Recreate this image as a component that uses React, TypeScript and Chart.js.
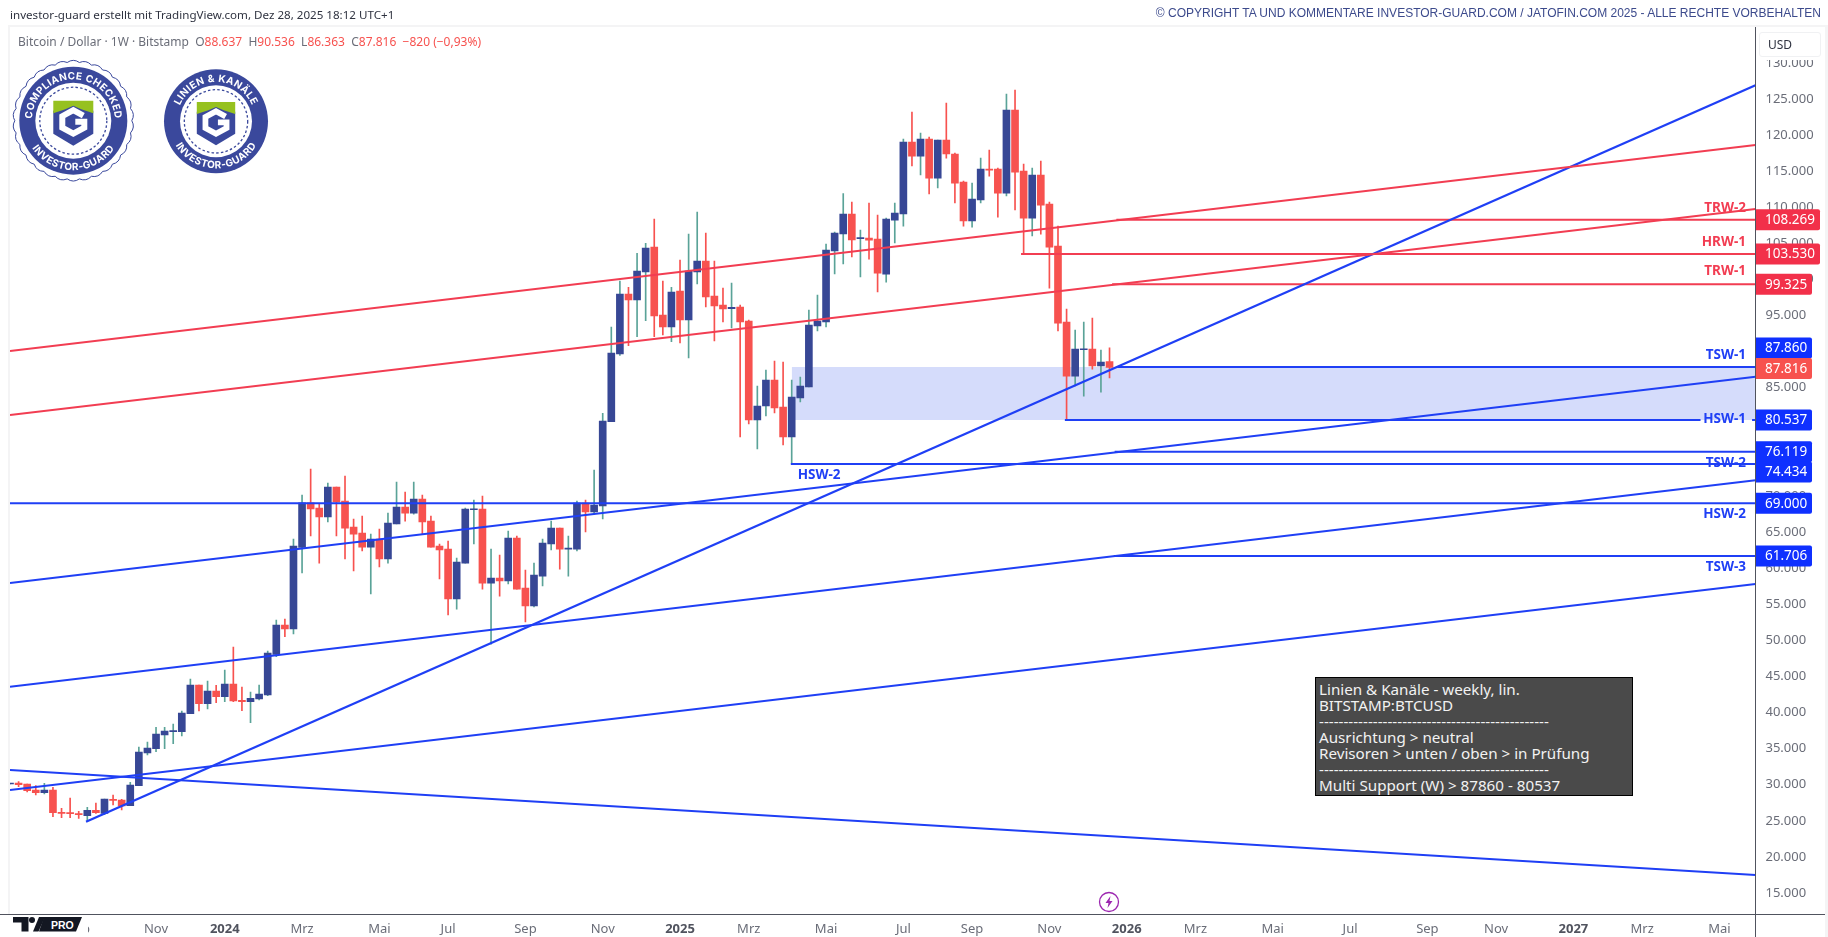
import { useEffect, useRef } from "react";
import { Chart, registerables } from "chart.js";

Chart.register(...registerables);

// weekly candles, Bitstamp BTCUSD
const opens = [30100,30240,30100,29270,28900,29270,26170,26080,25990,25710,26450,26040,27980,27880,27100,29870,34390,35000,36890,37350,37350,39840,43820,41230,42980,42200,43950,41690,41510,41880,42430,48060,52130,51570,62890,69070,68330,67090,71240,69300,65700,64870,62930,64040,61270,66120,68470,67640,69580,66530,63070,62650,55730,60710,68100,68200,57940,58640,58220,64180,57250,54760,58910,63350,65560,62650,62650,69030,67780,68620,80300,89670,97990,97160,101040,104500,95080,93420,98400,94390,101040,102560,97710,96460,95960,96190,94250,80530,82470,86070,82330,78180,83580,85100,93550,94110,103940,106300,109070,105650,105740,105600,100750,108230,109070,119040,117100,119460,114050,119320,117380,113500,108100,111010,115300,115300,111970,123470,115020,108510,114470,110450,104630,94100,86620,90270,90360,88010,88637];
const highs = [30190,30420,30100,29870,30190,29640,26730,28160,26310,26870,27470,28020,28580,27980,30330,35230,35920,37950,37950,38410,40210,44650,43820,44370,43770,45890,49080,43540,42850,43820,48530,52820,52960,64040,70140,73740,68980,71800,71240,72770,66810,67230,64730,65430,67640,71940,70550,71940,70140,67230,63350,63760,61410,68330,69440,70000,62650,61820,65150,64460,59750,60710,64040,66530,65560,64460,69300,69440,73600,81450,93420,99790,98910,103620,105010,108380,99790,98910,102700,106300,109350,106440,102560,98820,99510,96460,94390,85240,87460,88700,88570,86070,86490,95770,97850,104910,106580,111900,110730,106850,110590,108930,108510,110590,119460,123200,120290,119730,119320,124440,117520,113640,113360,116820,117930,115440,125690,126240,115990,115440,116410,110730,107400,95900,92990,94100,94660,90220,90536];
const lows = [30100,29730,28990,28580,28710,25570,25440,25440,25340,24970,26040,25850,27190,26500,27100,29870,34120,34580,35000,35690,36750,39840,40210,40490,41370,41510,41510,40260,38600,41740,42340,47740,50510,50880,59330,64460,60710,66400,64460,61270,59610,62380,56420,60160,60710,66120,66530,67500,64730,62930,58500,53510,54340,60710,63350,57110,49490,56140,57810,57110,52540,54620,57530,62520,59880,58910,62380,65010,67500,66810,80300,89490,90830,92080,94290,92080,92310,91380,91200,89120,99370,96190,91480,94110,93280,78180,79980,76510,81080,81500,77070,74430,83020,85100,92860,93420,100760,102140,103110,100340,102830,98260,99640,105050,107400,115720,114470,111840,112670,116820,110590,107400,107260,110590,114330,108650,111560,109620,103530,106020,106290,98810,92860,80530,85240,83850,87590,84400,86363];
const closes = [30190,30010,29180,28900,29270,26130,26040,25990,25850,26450,26130,28020,27840,27050,29960,34530,35090,37030,37440,37440,39940,43820,41230,42980,42200,43950,41600,41510,41970,42570,48250,52130,51570,63070,69070,68200,67090,71240,69170,65560,64730,62930,64040,61270,66260,68470,67640,69580,66400,62930,62520,55730,60850,68200,68200,57940,58640,58220,64180,57110,54760,59050,63490,65560,62650,62790,69030,67780,68750,80390,89810,97990,97160,101170,104360,94940,93420,98260,94390,101170,102560,97570,96320,95910,96140,94110,80530,82470,86070,82190,78180,83720,85240,93690,94250,104080,106440,109070,105470,105750,105460,100890,108370,109200,119040,117100,119460,114050,119320,117380,113360,108100,111140,115300,115160,111970,123470,114880,108510,114470,110310,104490,93960,86620,90360,90360,88010,88560,87816];

const xMax = 203.2;

const priceTicks = [15000,20000,25000,30000,35000,40000,45000,50000,55000,60000,65000,70000,75000,80000,85000,90000,95000,100000,105000,110000,115000,120000,125000,130000];
const tickBars = [8,17,25,34,43,51,60,69,78,86,95,104,112,121,130,138,147,156,165,173,182,190,199];
const tickLabels = ["Sep","Nov","2024","Mrz","Mai","Jul","Sep","Nov","2025","Mrz","Mai","Jul","Sep","Nov","2026","Mrz","Mai","Jul","Sep","Nov","2027","Mrz","Mai"];

// sloped trend lines, first two are the red channel
const trendFromBar = [0,0,8.85,0,0,0,0];
const trendFromPrice = [90090,81220,24880,57950,43580,29270,32040];
const trendToPrice = [118630,109760,126900,86530,72180,57810,17490];
const trendColors = ["#f23d52","#f23d52","#1f3ff5","#1f3ff5","#1f3ff5","#1f3ff5","#1f3ff5"];

// horizontal levels
const levelPrices = [108269,103530,99325,87860,80537,80537,76119,74434,69000,61706];
const levelFromBar = [128.8,117.7,128.3,128.9,122.8,202.8,128.6,90.9,0,128.5];
const levelToBar = [xMax,xMax,xMax,xMax,196.8,xMax,xMax,xMax,xMax,xMax];
const levelColors = ["#f23d52","#f23d52","#f23d52","#1f3ff5","#1f3ff5","#1f3ff5","#1f3ff5","#1f3ff5","#1f3ff5","#1f3ff5"];

const zoneTop = 87860;
const zoneBottom = 80537;
const zoneFromBar = 91;

const tagPrices = [108269,103530,99325,87860,87816,80537,76119,74434,69000,61706];
const tagNudge = [0,0,0,-19,1,0,0,8,0,0];
const tagWide = [true,true,false,false,false,false,false,false,false,false];
const tagColors = ["#f2304a","#f2304a","#f2304a","#0f30ff","#f7524f","#0f30ff","#0f30ff","#0f30ff","#0f30ff","#0f30ff"];

const noteNames = ["TRW-2","HRW-1","TRW-1","TSW-1","HSW-1","TSW-2","HSW-2","TSW-3"];
const notePrices = [108269,103530,99325,87860,80537,74434,69000,61706];
const noteNudge = [-12,-12,-13,-12,-1,-1,11,11];
const noteColors = ["#f23d52","#f23d52","#f23d52","#1f3ff5","#1f3ff5","#1f3ff5","#1f3ff5","#1f3ff5"];

const insetBar = 91.7;

const UI_FONT = '"Noto Sans", sans-serif';
const deNumber = (v: number) => v.toLocaleString("de-DE");

const overlays = {
  id: "overlays",
  afterDatasetsDraw(chart: any) {
    const { ctx, scales } = chart;
    ctx.save();
    ctx.font = `bold 13.5px ${UI_FONT}`;
    ctx.textBaseline = "middle";
    ctx.textAlign = "right";
    noteNames.forEach((name, i) => {
      ctx.fillStyle = noteColors[i];
      ctx.fillText(name, 1746, scales.y.getPixelForValue(notePrices[i]) + noteNudge[i]);
    });
    ctx.textAlign = "left";
    ctx.fillStyle = "#1f3ff5";
    ctx.fillText("HSW-2", scales.x.getPixelForValue(insetBar), scales.y.getPixelForValue(74434) + 11);
    ctx.restore();
  },
  afterDraw(chart: any) {
    const { ctx, chartArea, scales, width, height } = chart;
    ctx.save();
    // faint chart frame
    ctx.fillStyle = "#f4f4f5";
    ctx.fillRect(8, 25, 2, height - 48);
    ctx.fillRect(8, 25, width - 8, 2);
    ctx.fillRect(width - 3, 25, 3, height - 25);
    // axis lines
    ctx.fillStyle = "#50535e";
    ctx.fillRect(Math.floor(chartArea.right), chartArea.top, 1, height - chartArea.top);
    ctx.fillRect(0, Math.floor(chartArea.bottom), width - 3, 1);
    // price tags
    ctx.font = `13.5px ${UI_FONT}`;
    ctx.textBaseline = "middle";
    ctx.textAlign = "left";
    tagPrices.forEach((price, i) => {
      const y = scales.y.getPixelForValue(price) + tagNudge[i];
      const left = Math.floor(chartArea.right) + 1;
      ctx.fillStyle = tagColors[i];
      ctx.beginPath();
      ctx.roundRect(left, y - 10.5, tagWide[i] ? 64 : 56, 21, [0, 2, 2, 0]);
      ctx.fill();
      ctx.fillStyle = "#ffffff";
      ctx.fillText(deNumber(price), left + 9, y + 0.5);
    });
    ctx.restore();
  },
};

function Scallop({ cx, cy, r }: { cx: number; cy: number; r: number }) {
  const n = 30;
  let d = "";
  for (let i = 0; i < n; i++) {
    const a = (i / n) * Math.PI * 2;
    const a2 = ((i + 1) / n) * Math.PI * 2;
    const am = (a + a2) / 2;
    const p = (ang: number, rad: number) => `${(cx + rad * Math.cos(ang)).toFixed(1)} ${(cy + rad * Math.sin(ang)).toFixed(1)}`;
    d += (i === 0 ? `M${p(a, r)}` : "") + `Q${p(am, r + 4)} ${p(a2, r)}`;
  }
  return <path d={d + "Z"} fill="#fff" stroke="#3a489c" strokeWidth="1" />;
}

function Shield({ cx, cy, k }: { cx: number; cy: number; k: number }) {
  return (
    <g transform={`translate(${cx} ${cy}) scale(${k})`}>
      <path d="M-20 -10V13L0 25L20 13V-10L0 -18Z" fill="#3a489c" />
      <path d="M-20 -20H20V-7.5L8 -11.5L0 -15L-8 -11.5L-20 -7.5Z" fill="#96c11f" />
      <path d="M10 -5L0 -10.5L-11 -4.5V7L0 13L11 7V1H2" fill="none" stroke="#fff" strokeWidth="6" />
    </g>
  );
}

function Badges() {
  return (
    <svg width="280" height="140" viewBox="0 50 280 140" style={{ position: "absolute", left: 0, top: 50 }}>
      <defs>
        <path id="topA" d="M31.8 120.7a41.5 41.5 0 0 1 83 0" />
        <path id="botA" d="M23.8 120.7a49.5 49.5 0 0 0 99 0" />
        <path id="topB" d="M176.5 121.3a39.5 39.5 0 0 1 79 0" />
        <path id="botB" d="M169 121.3a47 47 0 0 0 94 0" />
      </defs>
      <Scallop cx={73.3} cy={120.7} r={58.5} />
      <circle cx={73.3} cy={120.7} r={54} fill="#3a489c" />
      <circle cx={73.3} cy={120.7} r={38} fill="#fff" />
      <circle cx={73.3} cy={120.7} r={33.5} fill="none" stroke="#3a489c" strokeWidth="1.3" strokeDasharray="2.5 2.2" />
      <Shield cx={73.3} cy={120.7} k={1} />
      <g fill="#fff" fontFamily="Inter" fontWeight="700" fontSize="10" letterSpacing="0.4" textAnchor="middle">
        <text><textPath href="#topA" startOffset="50%">COMPLIANCE CHECKED</textPath></text>
        <text><textPath href="#botA" startOffset="50%">INVESTOR-GUARD</textPath></text>
      </g>
      <circle cx={216} cy={121.3} r={52} fill="#3a489c" />
      <circle cx={216} cy={121.3} r={36} fill="#fff" />
      <circle cx={216} cy={121.3} r={31.7} fill="none" stroke="#3a489c" strokeWidth="1.3" strokeDasharray="2.5 2.2" />
      <Shield cx={216} cy={121.3} k={0.96} />
      <g fill="#fff" fontFamily="Inter" fontWeight="700" fontSize="10" letterSpacing="0.4" textAnchor="middle">
        <text><textPath href="#topB" startOffset="50%">LINIEN &amp; KANÄLE</textPath></text>
        <text><textPath href="#botB" startOffset="50%">INVESTOR-GUARD</textPath></text>
      </g>
    </svg>
  );
}

export default function App() {
  const canvasRef = useRef<HTMLCanvasElement>(null);

  useEffect(() => {
    if (!canvasRef.current) return;
    const isUp = (i: number) => closes[i] >= opens[i];
    const trendSets = trendFromBar.map((from, i) => ({
      type: "line" as const,
      data: [{ x: from, y: trendFromPrice[i] }, { x: xMax, y: trendToPrice[i] }],
      borderColor: trendColors[i],
      borderWidth: i === 2 ? 2.3 : 2,
      pointRadius: 0,
      order: 1,
    }));
    const levelSets = levelPrices.map((price, i) => ({
      type: "line" as const,
      data: [{ x: levelFromBar[i], y: price }, { x: levelToBar[i], y: price }],
      borderColor: levelColors[i],
      borderWidth: 2,
      pointRadius: 0,
      order: 1,
    }));
    const chart = new Chart(canvasRef.current, {
      type: "bar",
      data: {
        datasets: [
          {
            type: "line",
            data: [{ x: zoneFromBar, y: zoneTop }, { x: xMax, y: zoneTop }],
            borderWidth: 0,
            pointRadius: 0,
            backgroundColor: "#d5dcfb",
            fill: { value: zoneBottom },
            order: 9,
          },
          {
            data: opens.map((_, i) => ({ x: i, y: [lows[i], highs[i]] })),
            backgroundColor: opens.map((_, i) => (isUp(i) ? "#5aa398" : "#f7524f")),
            barThickness: 1,
            grouped: false,
            order: 8,
          },
          {
            data: opens.map((_, i) => ({ x: i, y: [opens[i], closes[i]] })),
            backgroundColor: opens.map((_, i) => (isUp(i) ? "#374795" : "#f7524f")),
            barThickness: 7,
            minBarLength: 1,
            grouped: false,
            order: 7,
          },
          ...trendSets,
          ...levelSets,
        ] as any,
      },
      plugins: [overlays],
      options: {
        animation: false,
        responsive: false,
        devicePixelRatio: 1,
        layout: { padding: { left: 10, top: 27, right: 0, bottom: 0 } },
        plugins: { legend: { display: false }, tooltip: { enabled: false } },
        scales: {
          x: {
            type: "linear",
            min: 0,
            max: xMax,
            offset: false,
            grid: { display: false, drawTicks: false },
            border: { display: false },
            afterBuildTicks: (scale: any) => {
              scale.ticks = tickBars.map((value) => ({ value }));
            },
            afterFit: (scale: any) => {
              scale.height = 23;
            },
            ticks: {
              autoSkip: false,
              maxRotation: 0,
              padding: 7,
              callback: (value: any) => tickLabels[tickBars.indexOf(value)],
              font: (ctx: any) => {
                const year = tickLabels[tickBars.indexOf(ctx.tick?.value)]?.length === 4;
                return { family: UI_FONT, size: 13, weight: year ? "bold" : "normal" };
              },
              color: (ctx: any) => (tickLabels[tickBars.indexOf(ctx.tick?.value)]?.length === 4 ? "#50535e" : "#6a6d78"),
            },
          },
          y: {
            position: "right",
            min: 12090,
            max: 134980,
            grid: { display: false, drawTicks: false },
            border: { display: false },
            afterBuildTicks: (scale: any) => {
              scale.ticks = priceTicks.map((value) => ({ value }));
            },
            afterFit: (scale: any) => {
              scale.width = 72.5;
            },
            ticks: {
              autoSkip: false,
              padding: 10,
              callback: (value: any) => deNumber(value),
              font: { family: UI_FONT, size: 13 },
              color: "#6a6d78",
            },
          },
        },
      },
    });
    return () => chart.destroy();
  }, []);

  return (
    <div style={{ position: "fixed", left: 0, top: 0, width: 1828, height: 937, background: "#fff", overflow: "hidden", fontFamily: UI_FONT }}>
      <canvas ref={canvasRef} width={1828} height={937} style={{ position: "absolute", left: 0, top: 0 }} />
      <div style={{ position: "absolute", left: 10, top: 7, fontSize: 11.6, color: "#2f3340", whiteSpace: "nowrap" }}>
        investor-guard erstellt mit TradingView.com, Dez 28, 2025 18:12 UTC+1
      </div>
      <div style={{ position: "absolute", right: 7, top: 6, fontSize: 12, fontFamily: "'Liberation Sans'", color: "#3c4a8c", whiteSpace: "nowrap" }}>
        © COPYRIGHT TA UND KOMMENTARE INVESTOR-GUARD.COM / JATOFIN.COM 2025 - ALLE RECHTE VORBEHALTEN
      </div>
      <div style={{ position: "absolute", left: 18, top: 33, fontSize: 12, color: "#6a6d78", whiteSpace: "nowrap" }}>
        Bitcoin / Dollar · 1W · Bitstamp{"\u00a0\u00a0"}O<span style={{ color: "#f7524f" }}>88.637</span>{"\u00a0\u00a0"}H<span style={{ color: "#f7524f" }}>90.536</span>{"\u00a0\u00a0"}L<span style={{ color: "#f7524f" }}>86.363</span>{"\u00a0\u00a0"}C<span style={{ color: "#f7524f" }}>87.816</span>{"\u00a0\u00a0"}<span style={{ color: "#f7524f" }}>−820 (−0,93%)</span>
      </div>
      <Badges />
      <div style={{ position: "absolute", left: 1759, top: 32, width: 62, height: 25, boxSizing: "border-box", background: "#fff", border: "1px solid #f0f1f3", boxShadow: "0 0 0 3px #fff", borderRadius: 3, fontSize: 12, color: "#2f3340", lineHeight: "23px", paddingLeft: 8 }}>
        USD
      </div>
      <div style={{ position: "absolute", left: 1315, top: 677, width: 318, height: 119, boxSizing: "border-box", background: "#4a4a4a", border: "1px solid #000", color: "#f2f2f2", fontSize: 15.2, lineHeight: "16px", padding: "3px 0 0 3px", whiteSpace: "pre" }}>
        {"Linien & Kanäle - weekly, lin.\nBITSTAMP:BTCUSD\n-----------------------------------------------\nAusrichtung > neutral\nRevisoren > unten / oben > in Prüfung\n-----------------------------------------------\nMulti Support (W) > 87860 - 80537"}
      </div>
      <svg width="22" height="22" style={{ position: "absolute", left: 1098, top: 891 }}>
        <circle cx="11" cy="11" r="9.5" fill="#fff" stroke="#9c27b0" strokeWidth="1.3" />
        <path d="M12.5 5L7.5 12H10.5L9.5 17L14.5 10H11.5Z" fill="#9c27b0" />
      </svg>
      <svg width="88" height="23" style={{ position: "absolute", left: 0, top: 914.5, background: "#fff" }}>
        <path d="M13 2H28.5V16.5H21.5V7.5H13Z" fill="#131722" />
        <circle cx="32" cy="5" r="3" fill="#131722" />
        <path d="M33 16.5L39 2H45L38.5 16.5Z" fill="#131722" />
        <path d="M44 2H82L76 16.5H39Z" fill="#131722" />
        <text x="51" y="13.5" fill="#fff" fontFamily="'Liberation Sans'" fontWeight="700" fontSize="10.5">PRO</text>
      </svg>
    </div>
  );
}
